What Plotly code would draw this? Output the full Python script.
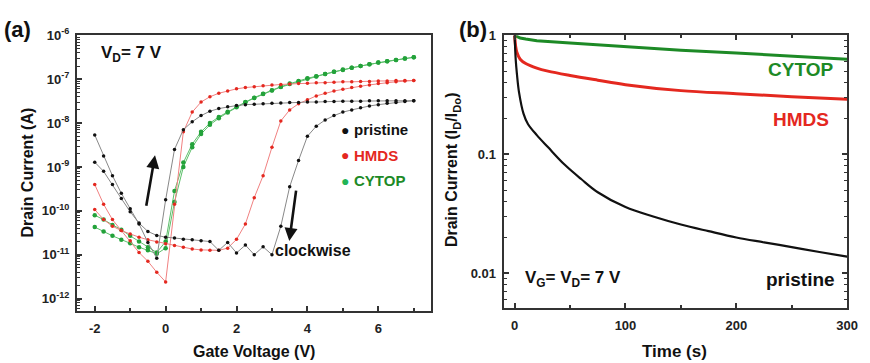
import numpy as np
import plotly.graph_objects as go

# ---------------- Panel (a): transfer curves ----------------
gate_v = [-2.0, -1.75, -1.5, -1.25, -1.0, -0.75, -0.5, -0.25, 0.0, 0.25, 0.5, 0.75, 1.0,
          1.25, 1.5, 1.75, 2.0, 2.25, 2.5, 2.75, 3.0, 3.25, 3.5, 3.75, 4.0, 4.25, 4.5,
          4.75, 5.0, 5.25, 5.5, 5.75, 6.0, 6.25, 6.5, 6.75, 7.0]

# log10 of drain current (A), forward sweep (-2 -> 7) and reverse sweep (listed -2 -> 7)
pristine_fwd_log = [-8.27, -8.75, -9.2, -9.6, -9.95, -10.3, -10.72, -11.08, -9.75, -8.6, -8.15,
                    -7.97, -7.83, -7.73, -7.67, -7.63, -7.6, -7.58, -7.57, -7.56, -7.55, -7.54,
                    -7.53, -7.53, -7.52, -7.52, -7.51, -7.51, -7.5, -7.5, -7.5, -7.49, -7.49,
                    -7.49, -7.49, -7.49, -7.49]
pristine_rev_log = [-8.89, -9.1, -9.4, -9.72, -10.02, -10.28, -10.47, -10.56, -10.6, -10.62,
                    -10.65, -10.66, -10.68, -10.7, -10.9, -10.72, -10.96, -10.78, -11.0, -10.82,
                    -11.0, -10.35, -9.45, -8.85, -8.3, -8.07, -7.93, -7.83, -7.75, -7.7, -7.65,
                    -7.61, -7.58, -7.55, -7.53, -7.51, -7.49]
hmds_fwd_log = [-9.4, -9.85, -10.2, -10.45, -10.68, -10.95, -11.15, -11.4, -11.62, -9.85, -8.2,
                -7.75, -7.52, -7.4, -7.32, -7.27, -7.22, -7.19, -7.17, -7.15, -7.13, -7.12,
                -7.11, -7.1, -7.09, -7.08, -7.08, -7.07, -7.06, -7.06, -7.05, -7.05, -7.04,
                -7.04, -7.03, -7.03, -7.03]
hmds_rev_log = [-9.97, -10.2, -10.35, -10.45, -10.53, -10.6, -10.66, -10.71, -10.75, -10.79,
                -10.83, -10.87, -10.89, -10.9, -10.9, -10.85, -10.65, -10.3, -9.7, -9.2,
                -8.55, -7.95, -7.7, -7.56, -7.47, -7.38, -7.32, -7.27, -7.23, -7.19, -7.16,
                -7.13, -7.1, -7.08, -7.06, -7.04, -7.03]
cytop_fwd_log = [-10.1, -10.2, -10.32, -10.43, -10.57, -10.7, -10.83, -10.95, -10.7, -9.55, -8.9,
                 -8.48, -8.2, -8.0, -7.86, -7.74, -7.62, -7.52, -7.42, -7.33, -7.25, -7.17,
                 -7.1, -7.04, -6.98, -6.93, -6.88, -6.83, -6.78, -6.74, -6.7, -6.66, -6.62,
                 -6.59, -6.56, -6.53, -6.5]
cytop_rev_log = [-10.37, -10.47, -10.57, -10.66, -10.74, -10.83, -10.9, -10.98, -10.85, -9.8, -9.0,
                 -8.55, -8.25, -8.04, -7.89, -7.76, -7.64, -7.53, -7.43, -7.34, -7.26, -7.18,
                 -7.11, -7.05, -6.99, -6.94, -6.88, -6.83, -6.79, -6.74, -6.7, -6.66, -6.62,
                 -6.59, -6.56, -6.53, -6.5]

# ---------------- Panel (b): normalized current vs time ----------------
pristine_t = [0, 1, 2, 4, 8, 12, 20, 30, 45, 60, 75, 100, 125, 150, 175, 200, 225, 250, 275, 300]
pristine_norm = [1.0, 0.62, 0.48, 0.33, 0.22, 0.18, 0.145, 0.115, 0.082, 0.062, 0.048, 0.036,
                 0.030, 0.0257, 0.0226, 0.0200, 0.0182, 0.0166, 0.0151, 0.0138]
hmds_t = [0, 1, 2, 5, 10, 20, 30, 50, 75, 100, 150, 200, 250, 300]
hmds_norm = [1.0, 0.8, 0.72, 0.63, 0.58, 0.53, 0.5, 0.46, 0.42, 0.385, 0.343, 0.323, 0.305, 0.29]
cytop_t = [0, 5, 10, 20, 50, 100, 150, 200, 250, 300]
cytop_norm = [1.0, 0.95, 0.93, 0.9, 0.86, 0.8, 0.75, 0.71, 0.67, 0.63]

W, H = 870, 363
FONT = "Liberation Sans, Arial, Helvetica, sans-serif"
BLACK, RED, GREEN_A, GREEN_B = "#111111", "#e4281f", "#23a23a", "#1d8a26"
GREEN_TXT = "#1d8a26"


def px(x):
    return x / W


def py(y):
    return 1 - y / H


fig = go.Figure()


def sweep(fwd_log, rev_log, mcolor, lcolor, msize):
    v = list(gate_v) + list(gate_v[::-1])
    cur = np.power(10.0, np.array(list(fwd_log) + list(rev_log[::-1])))
    fig.add_trace(go.Scatter(x=v, y=cur, mode="lines+markers", xaxis="x", yaxis="y",
                             line=dict(color=lcolor, width=1),
                             marker=dict(color=mcolor, size=msize), showlegend=False))


sweep(cytop_fwd_log, cytop_rev_log, GREEN_A, "#5cbf6a", 4.5)
sweep(hmds_fwd_log, hmds_rev_log, RED, "#f08080", 3.5)
sweep(pristine_fwd_log, pristine_rev_log, BLACK, "#888888", 3.5)

fig.add_trace(go.Scatter(x=cytop_t, y=cytop_norm, mode="lines", xaxis="x2", yaxis="y2",
                         line=dict(color=GREEN_B, width=3), showlegend=False))
fig.add_trace(go.Scatter(x=hmds_t, y=hmds_norm, mode="lines", xaxis="x2", yaxis="y2",
                         line=dict(color=RED, width=3, shape="spline"), showlegend=False))
fig.add_trace(go.Scatter(x=pristine_t, y=pristine_norm, mode="lines", xaxis="x2", yaxis="y2",
                         line=dict(color=BLACK, width=2.2, shape="spline"), showlegend=False))

axcommon = dict(showgrid=False, zeroline=False, showline=True, linecolor="#333333", linewidth=2,
                ticks="inside", tickcolor="#333333", tickwidth=2, ticklen=5,
                tickfont=dict(family=FONT, size=13, color="#222222", weight="bold"))

ticks_a = [1e-12, 1e-11, 1e-10, 1e-9, 1e-8, 1e-7, 1e-6]
ticktext_a = ["10<sup>-12</sup>", "10<sup>-11</sup>", "10<sup>-10</sup>", "10<sup>-9</sup>",
              "10<sup>-8</sup>", "10<sup>-7</sup>", "10<sup>-6</sup>"]
minor_a = [k * 10.0 ** d for d in range(-13, -6) for k in range(2, 10)]
minor_b = [k * 10.0 ** d for d in range(-3, 0) for k in range(2, 10)]

fig.update_layout(
    width=W, height=H, margin=dict(l=0, r=0, t=0, b=0),
    paper_bgcolor="white", plot_bgcolor="white",
    font=dict(family=FONT, color="#111111"),
    xaxis=dict(domain=[px(78), px(437)], range=[-2.5, 7.5], tickvals=[-2, 0, 2, 4, 6],
               ticktext=["-2", "0", "2", "4", "6"],
               minor=dict(ticks="inside", ticklen=3, tickwidth=2, tickcolor="#333333",
                          tickvals=[-1, 1, 3, 5, 7]),
               mirror=True, anchor="y", ticklabelstandoff=4, **axcommon),
    yaxis=dict(domain=[py(310), py(27)], type="log", range=[-12.29, -6.0],
               tickvals=ticks_a, ticktext=ticktext_a,
               minor=dict(ticks="inside", ticklen=3, tickwidth=1, tickcolor="#333333",
                          tickvals=minor_a),
               mirror=True, anchor="x", ticklabelstandoff=3, **axcommon),
    xaxis2=dict(domain=[px(510), px(858)], range=[-10, 300], tickvals=[0, 100, 200, 300],
                minor=dict(ticks="inside", ticklen=3, tickwidth=2, tickcolor="#333333",
                           tickvals=[50, 150, 250]),
                mirror="ticks", anchor="y2", ticklabelstandoff=4, **axcommon),
    yaxis2=dict(domain=[py(307), py(27)], type="log", range=[-2.295, 0.0],
                tickvals=[0.01, 0.1, 1], ticktext=["0.01", "0.1", "1"],
                minor=dict(ticks="inside", ticklen=3, tickwidth=1, tickcolor="#333333",
                           tickvals=minor_b),
                mirror="ticks", anchor="x2", ticklabelstandoff=3, **axcommon),
)


def text(x, y, s, size, color="#111111", xanchor="left", angle=0):
    fig.add_annotation(x=px(x), y=py(y), xref="paper", yref="paper", text=s, showarrow=False,
                       xanchor=xanchor, yanchor="middle", textangle=angle,
                       font=dict(family=FONT, size=size, color=color, weight="bold"))


# panel labels
text(2, 21, "(a)", 22)
text(463, 21, "(b)", 22)

# axis titles
text(28, 168, "Drain Current (A)", 16, xanchor="center", angle=-90)
text(257, 351, "Gate Voltage (V)", 16, xanchor="center")
text(459, 165, "Drain Current (I<sub>D</sub>/I<sub>Do</sub>)", 16, xanchor="center", angle=-90)
text(683, 351, "Time (s)", 17, xanchor="center")

# panel (a) texts
text(100, 46, "V<sub>D</sub>= 7 V", 17)
text(276, 248, "clockwise", 16)
text(343, 124, "●", 14, BLACK)
text(357, 124, "pristine", 15, BLACK)
text(343, 150, "●", 14, RED)
text(357, 150, "HMDS", 15, RED)
text(343, 176, "●", 14, "#22b455")
text(357, 176, "CYTOP", 15, GREEN_TXT)

# arrows
fig.add_annotation(x=px(157), y=py(150), xref="paper", yref="paper", ax=-9, ay=52,
                   text="", showarrow=True, arrowhead=2, arrowsize=1, arrowwidth=2.6,
                   arrowcolor="#111111")
fig.add_annotation(x=px(293), y=py(238), xref="paper", yref="paper", ax=7, ay=-52,
                   text="", showarrow=True, arrowhead=2, arrowsize=1, arrowwidth=2.6,
                   arrowcolor="#111111")

# panel (b) texts
text(846, 62, "CYTOP", 19, GREEN_TXT, xanchor="right")
text(842, 113, "HMDS", 19, RED, xanchor="right")
text(848, 277, "pristine", 19, BLACK, xanchor="right")
text(530, 277, "V<sub>G</sub>= V<sub>D</sub>= 7 V", 17)

fig.write_html("out.html", config={"displayModeBar": False},
               post_script="document.body.style.margin='0';document.body.style.overflow='hidden';")
